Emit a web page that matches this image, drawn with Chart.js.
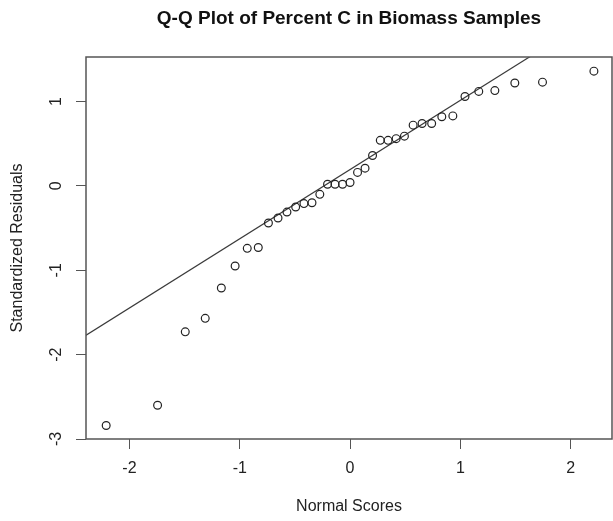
<!DOCTYPE html>
<html>
<head>
<meta charset="utf-8">
<script src="https://cdn.jsdelivr.net/npm/chart.js@4/dist/chart.umd.min.js"></script>
<style>
  html, body { margin: 0; padding: 0; background: #fff; }
  #wrap { width: 613px; height: 521px; }
</style>
</head>
<body>
<div id="wrap"><canvas id="qq" width="613" height="521"></canvas></div>
<script>
// Theoretical normal quantiles for the 37 samples (x) and the sorted standardized residuals (y)
const normalScores = [
  -2.211, -1.745, -1.494, -1.313, -1.167, -1.042, -0.932, -0.832, -0.740, -0.653,
  -0.572, -0.493, -0.418, -0.345, -0.274, -0.204, -0.136, -0.068, 0.000, 0.068,
  0.136, 0.204, 0.274, 0.345, 0.418, 0.493, 0.572, 0.653, 0.740, 0.832,
  0.932, 1.042, 1.167, 1.313, 1.494, 1.745, 2.211
];
const standardizedResiduals = [
  -2.84, -2.60, -1.73, -1.57, -1.21, -0.95, -0.74, -0.73, -0.44, -0.38,
  -0.31, -0.25, -0.21, -0.20, -0.10, 0.02, 0.02, 0.02, 0.04, 0.16,
  0.21, 0.36, 0.54, 0.54, 0.56, 0.59, 0.72, 0.74, 0.74, 0.82,
  0.83, 1.06, 1.12, 1.13, 1.22, 1.23, 1.36
];
// Reference line through the quartiles (two endpoints, clipped to the plot region)
const qqLineX = [-2.5, 2.5];
const qqLineY = [-1.857, 2.245];

const xTicks = [-2, -1, 0, 1, 2];
const yTicks = [-3, -2, -1, 0, 1];

const points = normalScores.map((x, i) => ({ x: x, y: standardizedResiduals[i] }));
const linePts = qqLineX.map((x, i) => ({ x: x, y: qqLineY[i] }));

const FONT = '"Liberation Sans", Arial, Helvetica, sans-serif';
const INK = '#222';
const FRAME = '#555';

// Frame around the plot region and vertical (R-style) y tick labels
const framePlugin = {
  id: 'frame',
  afterDraw(chart) {
    const { ctx, chartArea: a } = chart;
    ctx.save();
    ctx.strokeStyle = FRAME;
    ctx.lineWidth = 1.5;
    ctx.strokeRect(a.left, a.top, a.right - a.left, a.bottom - a.top);

    const ys = chart.scales.y;
    ctx.fillStyle = INK;
    ctx.font = '16px ' + FONT;
    ctx.textAlign = 'center';
    ctx.textBaseline = 'middle';
    ys.ticks.forEach(t => {
      const py = ys.getPixelForValue(t.value);
      ctx.save();
      ctx.translate(57, py);
      ctx.rotate(-Math.PI / 2);
      ctx.fillText(String(t.value), 0, 0);
      ctx.restore();
    });
    ctx.restore();
  }
};

new Chart(document.getElementById('qq'), {
  type: 'scatter',
  data: {
    datasets: [
      {
        label: 'Residuals',
        data: points,
        pointStyle: 'circle',
        pointRadius: 3.9,
        pointHoverRadius: 3.9,
        pointBorderWidth: 1.2,
        borderColor: INK,
        backgroundColor: 'rgba(0,0,0,0)',
        order: 1
      },
      {
        type: 'line',
        label: 'qqline',
        data: linePts,
        borderColor: '#3a3a3a',
        borderWidth: 1.2,
        pointRadius: 0,
        fill: false,
        clip: 0,
        order: 2
      }
    ]
  },
  options: {
    responsive: false,
    animation: false,
    devicePixelRatio: 1,
    layout: { autoPadding: false, padding: { left: 0, right: 1, top: 0, bottom: 0 } },
    plugins: {
      legend: { display: false },
      tooltip: { enabled: false },
      title: {
        display: true,
        fullSize: false,
        text: 'Q-Q Plot of Percent C in Biomass Samples',
        color: '#111',
        font: { family: FONT, size: 19, weight: 'bold', lineHeight: 1.2 },
        padding: { top: 7.6, bottom: 26.6 }
      }
    },
    scales: {
      x: {
        type: 'linear',
        min: -2.394,
        max: 2.375,
        afterFit(scale) { scale.height = 82; },
        afterBuildTicks(scale) { scale.ticks = xTicks.map(v => ({ value: v })); },
        border: { display: false },
        grid: {
          display: true,
          drawOnChartArea: false,
          drawTicks: true,
          tickLength: 10,
          color: FRAME,
          lineWidth: 1
        },
        ticks: {
          includeBounds: false,
          color: INK,
          padding: 10,
          font: { family: FONT, size: 16 },
          maxRotation: 0
        },
        title: {
          display: true,
          text: 'Normal Scores',
          color: INK,
          font: { family: FONT, size: 16, lineHeight: 1.2 },
          padding: { top: 0, bottom: 4.4 }
        }
      },
      y: {
        type: 'linear',
        min: -3.0,
        max: 1.528,
        afterFit(scale) { scale.width = 86; },
        afterBuildTicks(scale) { scale.ticks = yTicks.map(v => ({ value: v })); },
        border: { display: false },
        grid: {
          display: true,
          drawOnChartArea: false,
          drawTicks: true,
          tickLength: 10,
          color: FRAME,
          lineWidth: 1
        },
        ticks: {
          includeBounds: false,
          color: 'rgba(0,0,0,0)',
          font: { family: FONT, size: 16 }
        },
        title: {
          display: true,
          text: 'Standardized Residuals',
          color: INK,
          font: { family: FONT, size: 16, lineHeight: 1.2 },
          padding: { top: 8.4, bottom: 0 }
        }
      }
    }
  },
  plugins: [framePlugin]
});
</script>
</body>
</html>
